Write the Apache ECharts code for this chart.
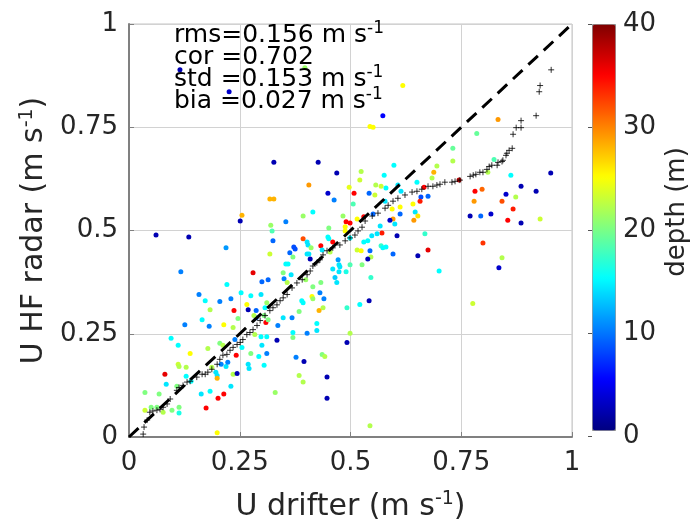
<!DOCTYPE html>
<html><head><meta charset="utf-8">
<script src="https://cdn.jsdelivr.net/npm/echarts@6/dist/echarts.min.js"></script>
<style>html,body{margin:0;padding:0;background:#fff}#c{width:692px;height:527px}</style>
</head><body><div id="c"></div>
<script>
// ---- data ----
const axisMin = 0, axisMax = 1, axisStep = 0.25;
const depthMin = 0, depthMax = 40, depthStep = 10;

const drifterU = [
.115,.397,.226,.618,.573,.544,.551,.833,.785,.731,.731,.695,.688,.598,.824,.810,.862,.952,.524,.521,
.576,.650,.745,.781,.797,.851,.885,.919,.497,.508,.542,.555,.557,.569,.580,.607,.614,.666,.684,.659,
.675,.657,.779,.842,.873,.867,.770,.794,.817,.855,.885,.928,.799,.842,.835,.776,.506,.578,.483,.490,
.499,.488,.488,.530,.515,.551,.594,.612,.641,.646,.652,.643,.596,.589,.612,.567,.600,.668,.571,.560,
.548,.605,.539,.530,.569,.580,.573,.675,.515,.524,.544,.596,.652,.546,.539,.499,.526,.490,.700,.546,
.542,.521,.492,.499,.492,.544,.499,.327,.427,.469,.406,.318,.327,.449,.463,.255,.251,.393,.415,.354,
.320,.323,.451,.325,.393,.402,.404,.433,.449,.451,.460,.436,.372,.375,.363,.402,.406,.411,.318,.354,
.359,.370,.409,.472,.474,.476,.454,.061,.135,.219,.460,.474,.465,.469,.433,.415,.431,.440,.413,.415,
.438,.429,.424,.424,.402,.390,.393,.117,.221,.253,.275,.298,.158,.172,.205,.230,.280,.300,.314,.348,
.366,.350,.357,.399,.384,.266,.311,.269,.287,.287,.282,.183,.237,.246,.165,.181,.214,.235,.126,.309,
.314,.305,.348,.336,.368,.370,.311,.298,.284,.300,.334,.370,.311,.242,.275,.205,.212,.239,.138,.307,
.095,.111,.178,.255,.293,.305,.269,.271,.111,.113,.129,.081,.129,.187,.196,.199,.199,.235,.244,.208,
.219,.223,.084,.108,.140,.163,.183,.214,.201,.174,.230,.036,.068,.050,.036,.063,.113,.113,.097,.077,
.199,.330,.395,.377,.384,.393,.447,.447,.436,.442
];
const radarU = [
.889,.894,.836,.851,.778,.752,.750,.769,.735,.699,.668,.656,.641,.658,.672,.641,.634,.639,.643,.622,
.634,.617,.622,.595,.600,.588,.607,.595,.605,.590,.590,.586,.610,.607,.603,.610,.595,.605,.627,.581,
.583,.571,.571,.571,.581,.552,.535,.535,.540,.525,.518,.528,.470,.434,.410,.323,.564,.571,.535,.521,
.518,.509,.499,.533,.528,.540,.552,.557,.564,.545,.535,.525,.528,.525,.540,.511,.516,.492,.494,.492,
.487,.487,.475,.472,.463,.460,.458,.453,.453,.451,.451,.443,.439,.436,.431,.417,.417,.400,.402,.386,
.330,.321,.313,.251,.229,.027,.482,.665,.665,.639,.610,.576,.576,.590,.574,.537,.523,.535,.545,.521,
.513,.499,.506,.475,.480,.472,.465,.463,.484,.480,.472,.453,.460,.455,.446,.443,.443,.458,.443,.419,
.419,.436,.431,.429,.417,.412,.448,.489,.484,.458,.407,.400,.386,.374,.374,.364,.349,.335,.340,.335,
.313,.306,.275,.258,.251,.330,.325,.400,.369,.349,.342,.345,.345,.330,.328,.335,.398,.376,.381,.398,
.393,.383,.374,.381,.304,.321,.325,.308,.306,.289,.294,.308,.306,.287,.284,.268,.272,.265,.272,.277,
.284,.294,.289,.270,.289,.253,.243,.243,.248,.222,.234,.241,.202,.198,.202,.227,.222,.236,.202,.313,
.239,.222,.214,.217,.195,.174,.176,.166,.176,.171,.169,.152,.147,.169,.157,.149,.142,.152,.154,.176,
.171,.181,.128,.123,.135,.104,.111,.104,.094,.070,.123,.108,.104,.072,.065,.072,.072,.058,.065,.060,
.010,.108,.183,.193,.149,.133,.145,.094,.200,.195
];
const depthM = [
2,21,3,25,5,25,25,29,19,19,22,22,28,15,18,22,15,2,22,23,
15,15,38,35,31,3,2,2,24,35,9,23,22,23,15,14,14,35,22,8,
9,34,29,32,22,34,2,9,3,35,2,23,33,22,3,23,18,14,21,35,
35,25,25,35,25,9,25,25,25,14,26,29,29,3,9,14,14,17,34,14,
14,2,15,15,17,15,15,36,23,25,9,9,2,22,2,18,20,16,15,17,
2,15,17,22,2,22,15,2,2,2,29,28,28,3,10,28,2,21,15,10,
21,18,20,9,32,14,14,35,15,15,35,14,8,8,9,14,14,21,23,15,
15,20,2,11,14,14,22,2,2,11,14,14,13,14,20,20,10,10,25,21,
22,28,15,14,10,15,15,10,15,15,15,14,10,15,10,10,36,9,9,20,
14,10,22,21,20,25,21,2,9,9,22,22,35,20,15,10,25,22,10,35,
20,20,14,10,10,15,15,15,22,14,2,20,10,35,20,20,22,10,25,15,
15,15,22,15,15,15,14,14,23,22,22,36,15,22,14,14,28,22,2,10,
14,10,14,20,15,14,15,35,35,35,14,20,20,20,23,20,20,16,20,22,
25,21,2,10,22,22,2,2,20,22
];

const qqDrifter = [
.032,.034,.041,.047,.054,.063,.070,.077,.086,.093,.108,.113,.122,.131,.138,.153,.165,.172,.178,.187,
.199,.205,.212,.221,.228,.235,.244,.251,.257,.266,.273,.280,.289,.296,.307,.318,.325,.334,.341,.348,
.357,.368,.379,.391,.402,.409,.415,.424,.431,.438,.447,.460,.476,.488,.499,.510,.517,.526,.533,.549,
.562,.578,.585,.596,.607,.623,.639,.650,.661,.675,.686,.695,.702,.713,.729,.736,.747,.770,.777,.783,
.792,.799,.808,.813,.819,.831,.833,.842,.844,.851,.853,.858,.865,.867,.874,.885,.885,.919,.926,.928,.953
];
const qqRadar = [
.007,.024,.041,.060,.063,.065,.067,.072,.080,.092,.113,.120,.125,.133,.135,.145,.152,.152,.157,.164,
.176,.188,.198,.200,.210,.217,.224,.229,.236,.248,.253,.260,.270,.282,.294,.306,.313,.320,.330,.337,
.345,.361,.373,.381,.393,.402,.414,.422,.429,.441,.451,.458,.465,.475,.482,.489,.499,.508,.523,.535,
.542,.554,.561,.571,.578,.586,.593,.595,.600,.607,.607,.610,.612,.617,.617,.619,.622,.631,.634,.636,
.641,.641,.648,.655,.658,.658,.665,.667,.670,.682,.687,.694,.699,.733,.749,.749,.766,.778,.836,.851,.889
];

const oneToOneX = [0, 1];
const oneToOneY = [0, 1];

const statNames = ['rms', 'cor ', 'std ', 'bia '];
const statValues = ['0.156', '0.702', '0.153', '0.027'];
const statUnits = [true, false, true, true];

// ---- chart ----
const FONT = 'DejaVu Sans';
const TXT = '#262626';
const jet = ['#000080','#0000ff','#0080ff','#00ffff','#80ff80','#ffff00','#ff8000','#ff0000','#800000'];

const dots = drifterU.map((x, i) => [x, radarU[i], depthM[i]]);
const qq = qqDrifter.map((x, i) => [x, qqRadar[i]]);
const diag = oneToOneX.map((x, i) => [x, oneToOneY[i]]);

const richStat = {
  m: { fontFamily: FONT, fontSize: 25, color: TXT, lineHeight: 30 },
  s: { fontFamily: FONT, fontSize: 17, color: TXT, lineHeight: 14, verticalAlign: 'top' }
};
const richName = {
  m: { fontFamily: FONT, fontSize: 30, color: TXT, lineHeight: 34 },
  s: { fontFamily: FONT, fontSize: 19, color: TXT, lineHeight: 15, verticalAlign: 'top' }
};

const statTops = [20, 42, 64, 86];
const graphics = statNames.map((n, i) => ({
  type: 'text', x: 174, y: statTops[i], z: 100,
  style: {
    text: statUnits[i] ? `{m|${n}=${statValues[i]} m s}{s|-1}` : `{m|${n}=${statValues[i]}}`,
    rich: richStat, verticalAlign: 'top', align: 'left'
  }
}));
graphics.push({
  type: 'text', x: 677, y: 212, rotation: Math.PI / 2, z: 100,
  style: { text: 'depth (m)', fontFamily: FONT, fontSize: 26, fill: TXT, align: 'center', verticalAlign: 'middle' }
});

const chart = echarts.init(document.getElementById('c'), null, { renderer: 'canvas' });
chart.setOption({
  animation: false,
  backgroundColor: '#fff',
  grid: [
    { left: 129, top: 24, width: 443, height: 416, show: true, borderColor: '#c4c4c4', borderWidth: 1, containLabel: false },
    { left: 592, top: 24, width: 23, height: 412, show: false }
  ],
  xAxis: [
    {
      type: 'value', gridIndex: 0, min: axisMin, max: axisMax, interval: axisStep,
      axisLine: { show: true, onZero: false, lineStyle: { color: '#808080', width: 2 } },
      axisTick: { show: true, inside: true, length: 5, lineStyle: { color: '#808080' } },
      axisLabel: { fontFamily: FONT, fontSize: 26, color: TXT, margin: 13 },
      splitLine: { show: true, lineStyle: { color: '#d2d2d2', width: 1 } },
      name: '{m|U drifter (m s}{s|-1}{m|)}', nameLocation: 'middle', nameGap: 53,
      nameTextStyle: { rich: richName }
    },
    { type: 'value', gridIndex: 1, min: 0, max: 1, show: false }
  ],
  yAxis: [
    {
      type: 'value', gridIndex: 0, min: axisMin, max: axisMax, interval: axisStep,
      axisLine: { show: true, onZero: false, lineStyle: { color: '#808080', width: 2 } },
      axisTick: { show: true, inside: true, length: 5, lineStyle: { color: '#808080' } },
      axisLabel: { fontFamily: FONT, fontSize: 26, color: TXT, margin: 11 },
      splitLine: { show: true, lineStyle: { color: '#d2d2d2', width: 1 } },
      name: '{m|U HF radar (m s}{s|-1}{m|)}', nameLocation: 'middle', nameGap: 76,
      nameTextStyle: { rich: richName }
    },
    {
      type: 'value', gridIndex: 1, min: depthMin, max: depthMax, interval: depthStep, position: 'right',
      axisLine: { show: false },
      axisTick: { show: true, inside: true, length: 4, lineStyle: { color: '#555' } },
      axisLabel: { fontFamily: FONT, fontSize: 26, color: TXT, margin: 8 },
      splitLine: { show: false }
    }
  ],
  visualMap: {
    type: 'continuous', min: depthMin, max: depthMax, dimension: 2, seriesIndex: 0,
    inRange: { color: jet }, calculable: false, hoverLink: false,
    left: 592, top: 24, itemWidth: 23, itemHeight: 406, padding: 0,
    borderColor: '#8c8c8c', borderWidth: 1
  },
  graphic: graphics,
  series: [
    {
      type: 'scatter', xAxisIndex: 0, yAxisIndex: 0, data: dots, symbolSize: 5, z: 2,
      itemStyle: { opacity: 1 }
    },
    {
      type: 'scatter', xAxisIndex: 0, yAxisIndex: 0, data: qq, z: 3,
      symbol: 'path://M5,0L5,10M0,5L10,5', symbolSize: 6,
      itemStyle: { color: 'rgba(0,0,0,0)', borderColor: '#000', borderWidth: 1 }
    },
    {
      type: 'line', xAxisIndex: 0, yAxisIndex: 0, data: diag, showSymbol: false, z: 4,
      lineStyle: { color: '#000', width: 3, type: [13, 8] }
    }
  ]
});
</script>
</body></html>
